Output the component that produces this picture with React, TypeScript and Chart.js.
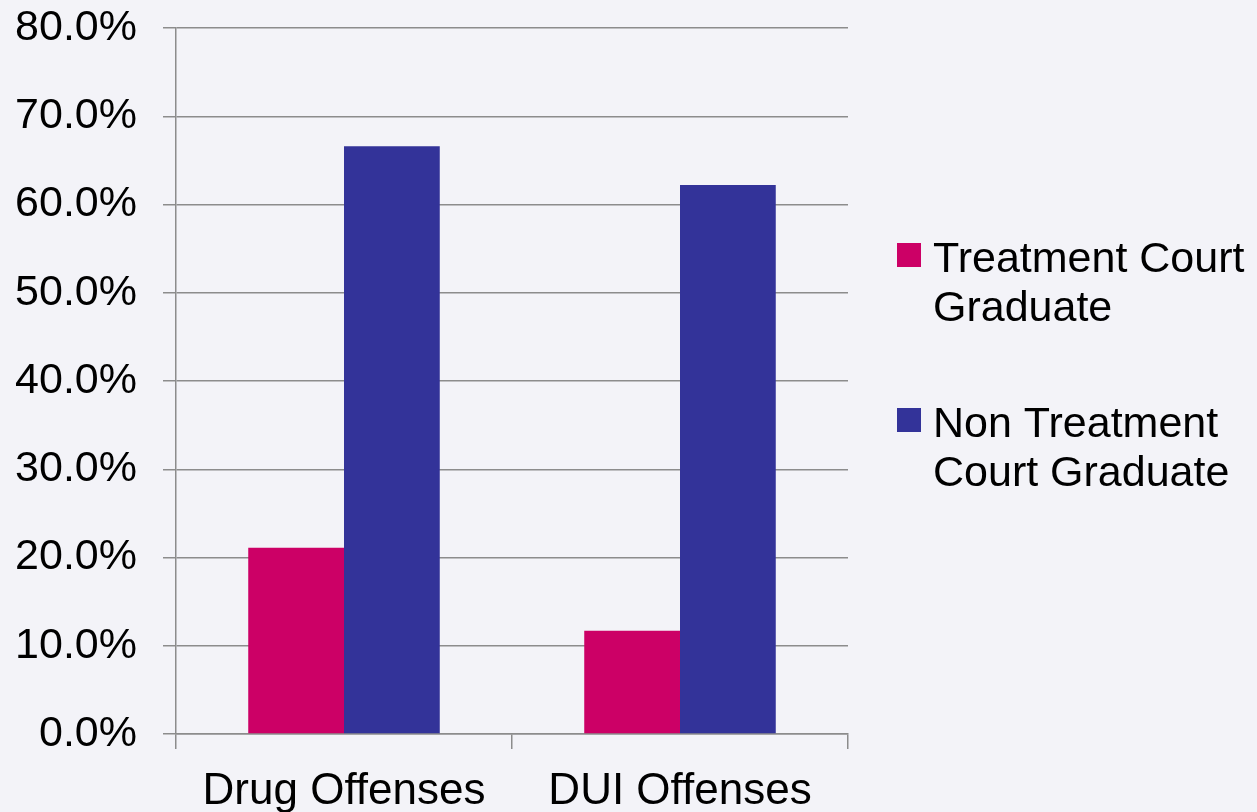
import React, { useEffect, useRef } from "react";
import { Chart, registerables } from "chart.js";

Chart.register(...registerables);

const categories = ["Drug Offenses", "DUI Offenses"];
const treatmentGrad = [21.1, 11.7];
const nonTreatmentGrad = [66.6, 62.2];
const seriesNames = [["Treatment Court", "Graduate"], ["Non Treatment", "Court Graduate"]];
const yTicks = { min: 0, max: 80, step: 10 };

const PINK = "#CC0066";
const BLUE = "#333399";
const GRID = "#8C8C8C";
const BG = "#F3F3F8";
const FONT = "'Liberation Sans', Arial, sans-serif";

const bgPlugin = {
  id: "bg",
  beforeDraw(chart: any) {
    const { ctx, width, height } = chart;
    ctx.save();
    ctx.fillStyle = BG;
    ctx.fillRect(0, 0, width, height);
    ctx.restore();
  },
};

const legendPlugin = {
  id: "customLegend",
  afterDraw(chart: any) {
    const { ctx, chartArea } = chart;
    const x = chartArea.right + 49;
    const colors = [PINK, BLUE];
    const baseOffsets = [244, 409];
    ctx.save();
    ctx.font = `43px ${FONT}`;
    ctx.textBaseline = "alphabetic";
    ctx.textAlign = "left";
    seriesNames.forEach((lines, i) => {
      const base = chartArea.top + baseOffsets[i];
      ctx.fillStyle = colors[i];
      ctx.fillRect(x, base - 29, 24, 24);
      ctx.fillStyle = "#000";
      lines.forEach((ln, j) => {
        ctx.fillText(ln, x + 36, base + j * 49);
      });
    });
    ctx.restore();
  },
};

export default function App() {
  const ref = useRef<HTMLCanvasElement | null>(null);
  useEffect(() => {
    if (!ref.current) return;
    const chart = new Chart(ref.current, {
      type: "bar",
      data: {
        labels: categories,
        datasets: [
          {
            label: seriesNames[0].join(" "),
            data: treatmentGrad,
            backgroundColor: PINK,
            categoryPercentage: 0.57,
            barPercentage: 1,
          },
          {
            label: seriesNames[1].join(" "),
            data: nonTreatmentGrad,
            backgroundColor: BLUE,
            categoryPercentage: 0.57,
            barPercentage: 1,
          },
        ],
      },
      options: {
        animation: false,
        responsive: false,
        maintainAspectRatio: false,
        devicePixelRatio: 1,
        layout: { padding: { left: 0, right: 409, top: 28, bottom: 0 } },
        plugins: { legend: { display: false }, tooltip: { enabled: false } },
        scales: {
          x: {
            grid: {
              offset: true,
              drawOnChartArea: false,
              drawTicks: true,
              tickLength: 15,
              color: GRID,
              lineWidth: 1.5,
            },
            border: { display: true, color: GRID, width: 1.5 },
            ticks: {
              color: "#000",
              font: { family: FONT, size: 44 },
              padding: 16,
              maxRotation: 0,
            },
            afterFit(scale: any) {
              scale.height = 78;
              scale.paddingLeft = 0;
              scale.paddingRight = 0;
            },
          },
          y: {
            min: yTicks.min,
            max: yTicks.max,
            ticks: {
              stepSize: yTicks.step,
              color: "#000",
              font: { family: FONT, size: 43 },
              padding: 26,
              callback: (v: any) => Number(v).toFixed(1) + "%",
            },
            grid: { color: GRID, lineWidth: 1.5, tickLength: 13 },
            border: { display: true, color: GRID, width: 1.5 },
            afterFit(scale: any) {
              scale.width = 176;
              scale.paddingTop = 0;
              scale.paddingBottom = 0;
            },
          },
        },
      },
      plugins: [bgPlugin, legendPlugin],
    });
    return () => chart.destroy();
  }, []);
  return (
    <div style={{ position: "fixed", left: 0, top: 0, width: 1257, height: 812, background: BG }}>
      <canvas ref={ref} width={1257} height={812} style={{ display: "block" }} />
    </div>
  );
}
